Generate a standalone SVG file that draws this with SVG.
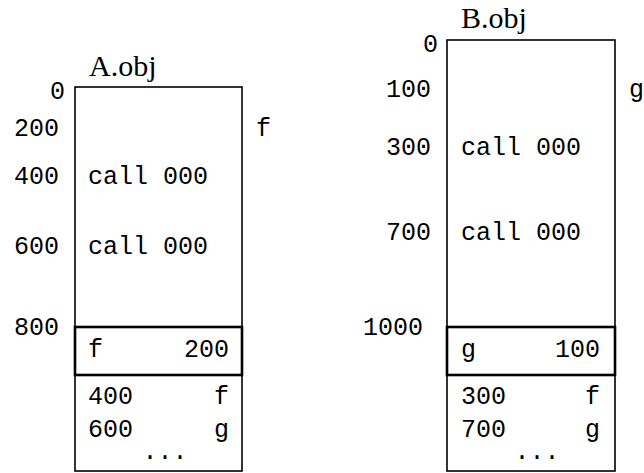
<svg xmlns="http://www.w3.org/2000/svg" width="644" height="473" viewBox="0 0 644 473">
<style>
.m{font-family:"Liberation Mono","DejaVu Sans Mono",monospace;font-size:25px;fill:#000}
.s{font-family:"Liberation Serif","DejaVu Serif",serif;font-size:30px;fill:#000}
.e{text-anchor:end}
.c{text-anchor:middle}
.box{fill:none;stroke:#000;stroke-width:1.6}
.thick{fill:none;stroke:#000;stroke-width:2.6}
</style>
<rect width="644" height="473" fill="#fff"/>
<g id="A">
<rect class="box" x="75" y="87" width="167" height="384"/>
<rect class="thick" x="75" y="327" width="167" height="48"/>
<text class="s" x="89" y="76">A.obj</text>
<text class="m e" x="65" y="99">0</text>
<text class="m e" x="59" y="136">200</text>
<text class="m" x="256" y="136">f</text>
<text class="m e" x="59" y="184">400</text>
<text class="m" x="88" y="184">call 000</text>
<text class="m e" x="59" y="254">600</text>
<text class="m" x="88" y="254">call 000</text>
<text class="m e" x="59" y="335">800</text>
<text class="m" x="88" y="357">f</text>
<text class="m e" x="229" y="357">200</text>
<text class="m" x="88" y="404">400</text>
<text class="m e" x="229" y="404">f</text>
<text class="m" x="88" y="437">600</text>
<text class="m e" x="229" y="437">g</text>
<text class="m c" x="165" y="459">...</text>
</g>
<g id="B">
<rect class="box" x="447" y="40" width="168" height="431"/>
<rect class="thick" x="447" y="327" width="168" height="48"/>
<text class="s" x="461" y="28">B.obj</text>
<text class="m e" x="438" y="52">0</text>
<text class="m e" x="431" y="97">100</text>
<text class="m" x="629" y="97">g</text>
<text class="m e" x="431" y="155">300</text>
<text class="m" x="461" y="155">call 000</text>
<text class="m e" x="431" y="240">700</text>
<text class="m" x="461" y="240">call 000</text>
<text class="m e" x="423" y="335">1000</text>
<text class="m" x="461" y="357">g</text>
<text class="m e" x="600" y="357">100</text>
<text class="m" x="461" y="404">300</text>
<text class="m e" x="600" y="404">f</text>
<text class="m" x="461" y="437">700</text>
<text class="m e" x="600" y="437">g</text>
<text class="m c" x="537" y="459">...</text>
</g>
<g id="connectors"></g>
</svg>
